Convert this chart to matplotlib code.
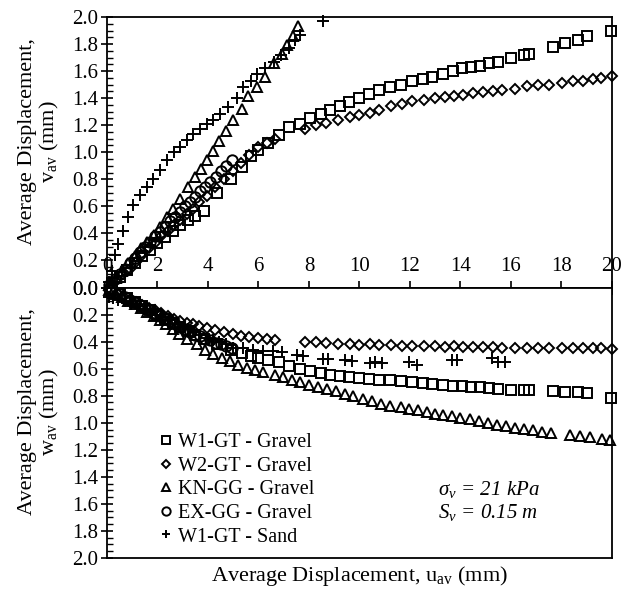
import matplotlib.pyplot as plt

plt.rcParams['font.family'] = 'Liberation Serif'
plt.rcParams['mathtext.fontset'] = 'custom'
plt.rcParams['mathtext.rm'] = 'Liberation Serif'
plt.rcParams['mathtext.it'] = 'Liberation Serif:italic'

# W1-GT - Gravel (same readings in both panels)
w1g_u = [0.2, 0.5, 0.8, 1.1, 1.4, 1.7, 2.0, 2.3, 2.6, 2.9, 3.2, 3.5, 3.84, 4.35, 4.9, 5.33, 5.7, 6.0, 6.38, 6.8,
         7.22, 7.64, 8.05, 8.46, 8.85, 9.23, 9.6, 9.99, 10.39, 10.78, 11.21, 11.65, 12.07, 12.5, 12.88, 13.3, 13.69,
         14.05, 14.4, 14.77, 15.14, 15.5, 15.99, 16.5, 16.72, 17.65, 18.15, 18.65, 19.0, 19.96]
w1g_v = [0.03, 0.08, 0.13, 0.18, 0.23, 0.28, 0.33, 0.37, 0.42, 0.46, 0.50, 0.53, 0.565, 0.70, 0.80, 0.89, 0.97, 1.02,
         1.07, 1.13, 1.19, 1.21, 1.25, 1.28, 1.316, 1.34, 1.373, 1.40, 1.43, 1.46, 1.48, 1.50, 1.53, 1.54, 1.56, 1.58,
         1.60, 1.62, 1.63, 1.64, 1.66, 1.67, 1.70, 1.72, 1.73, 1.78, 1.81, 1.83, 1.86, 1.90]
w1g_w = [0.02, 0.05, 0.08, 0.11, 0.14, 0.17, 0.20, 0.23, 0.26, 0.29, 0.32, 0.35, 0.38, 0.42, 0.459, 0.484, 0.504, 0.52,
         0.533, 0.553, 0.58, 0.60, 0.62, 0.632, 0.644, 0.657, 0.662, 0.669, 0.676, 0.681, 0.687, 0.694, 0.701, 0.706,
         0.711, 0.721, 0.725, 0.728, 0.733, 0.738, 0.743, 0.748, 0.755, 0.761, 0.761, 0.766, 0.770, 0.775, 0.780, 0.817]

# W2-GT - Gravel
w2g_u = [0.15, 0.4, 0.65, 0.9, 1.15, 1.4, 1.65, 1.9, 2.15, 2.4, 2.65, 2.9, 3.15, 3.4, 3.65, 3.95, 4.28, 4.63, 4.98,
         5.30, 5.64, 6.0, 6.32, 6.65, 7.84, 8.26, 8.69, 9.14, 9.61, 10.0, 10.4, 10.77, 11.23, 11.67, 12.09, 12.57,
         13.01, 13.39, 13.74, 14.11, 14.51, 14.9, 15.27, 15.66, 16.16, 16.65, 17.07, 17.49, 18.03, 18.47, 18.84,
         19.24, 19.56, 20.0]
w2g_v = [0.02, 0.06, 0.1, 0.14, 0.19, 0.24, 0.29, 0.33, 0.38, 0.42, 0.46, 0.5, 0.54, 0.58, 0.63, 0.68, 0.74, 0.8,
         0.86, 0.92, 0.98, 1.04, 1.07, 1.10, 1.175, 1.20, 1.217, 1.242, 1.257, 1.276, 1.29, 1.31, 1.34, 1.356, 1.38,
         1.385, 1.40, 1.405, 1.415, 1.425, 1.435, 1.444, 1.454, 1.46, 1.47, 1.49, 1.494, 1.50, 1.51, 1.524, 1.53,
         1.54, 1.548, 1.563]
w2g_w = [0.015, 0.04, 0.065, 0.09, 0.11, 0.13, 0.15, 0.17, 0.19, 0.21, 0.23, 0.245, 0.26, 0.27, 0.285, 0.30, 0.311,
         0.331, 0.343, 0.356, 0.365, 0.375, 0.38, 0.385, 0.405, 0.405, 0.41, 0.415, 0.417, 0.422, 0.417, 0.422, 0.422,
         0.43, 0.434, 0.43, 0.434, 0.44, 0.434, 0.44, 0.44, 0.44, 0.44, 0.445, 0.445, 0.445, 0.445, 0.448, 0.448,
         0.45, 0.45, 0.45, 0.45, 0.455]

# KN-GG - Gravel
kn_u_top = [0.1, 0.35, 0.6, 0.85, 1.1, 1.35, 1.6, 1.85, 2.1, 2.36, 2.63, 2.89, 3.22, 3.49, 3.72, 3.95, 4.21, 4.45,
            4.71, 5.0, 5.33, 5.6, 5.93, 6.26, 6.6, 6.92, 7.14, 7.38, 7.55]
kn_v = [0.02, 0.07, 0.12, 0.18, 0.23, 0.29, 0.34, 0.39, 0.45, 0.52, 0.583, 0.657, 0.743, 0.817, 0.879, 0.94, 1.007,
        1.08, 1.158, 1.237, 1.32, 1.415, 1.484, 1.56, 1.66, 1.73, 1.79, 1.86, 1.93]
kn_u_bot = [0.1, 0.35, 0.6, 0.85, 1.1, 1.35, 1.6, 1.85, 2.1, 2.35, 2.6, 2.85, 3.16, 3.55, 3.88, 4.21, 4.54, 4.87,
            5.2, 5.53, 5.86, 6.19, 6.65, 6.98, 7.31, 7.64, 8.01, 8.37, 8.72, 9.07, 9.43, 9.75, 10.15, 10.48, 10.84,
            11.21, 11.63, 11.97, 12.33, 12.69, 13.0, 13.32, 13.65, 14.0, 14.36, 14.72, 15.08, 15.44, 15.8, 16.16,
            16.52, 16.88, 17.24, 17.6, 18.34, 18.73, 19.13, 19.59, 19.92]
kn_w = [0.02, 0.045, 0.07, 0.10, 0.125, 0.15, 0.18, 0.21, 0.24, 0.27, 0.31, 0.345, 0.38, 0.42, 0.46, 0.489, 0.52,
        0.546, 0.57, 0.595, 0.607, 0.627, 0.65, 0.665, 0.681, 0.701, 0.719, 0.736, 0.75, 0.768, 0.785, 0.805, 0.824,
        0.842, 0.859, 0.874, 0.884, 0.899, 0.909, 0.924, 0.933, 0.943, 0.953, 0.963, 0.975, 0.99, 1.0, 1.013, 1.025,
        1.036, 1.046, 1.056, 1.066, 1.078, 1.089, 1.096, 1.106, 1.119, 1.126]

# EX-GG - Gravel
ex_u = [0.1, 0.3, 0.5, 0.7, 0.9, 1.1, 1.3, 1.5, 1.7, 1.9, 2.1, 2.3, 2.5, 2.7, 2.9, 3.1, 3.3, 3.5, 3.7, 3.9, 4.1,
        4.3, 4.5, 4.7, 4.94]
ex_v = [0.02, 0.06, 0.1, 0.14, 0.18, 0.22, 0.26, 0.3, 0.34, 0.38, 0.41, 0.45, 0.49, 0.52, 0.56, 0.6, 0.63, 0.67,
        0.71, 0.74, 0.78, 0.82, 0.86, 0.9, 0.94]
ex_w = [0.01, 0.03, 0.05, 0.07, 0.09, 0.11, 0.13, 0.15, 0.17, 0.19, 0.21, 0.23, 0.25, 0.27, 0.29, 0.31, 0.33, 0.35,
        0.36, 0.38, 0.39, 0.41, 0.42, 0.43, 0.45]

# W1-GT - Sand
sand_u_top = [0.1, 0.2, 0.32, 0.45, 0.65, 0.85, 1.04, 1.31, 1.57, 1.83, 2.1, 2.36, 2.65, 2.89, 3.16, 3.42, 3.68,
              3.95, 4.21, 4.48, 4.8, 5.14, 5.4, 5.7, 5.95, 6.25, 6.6, 6.9, 7.2, 7.45, 7.65, 8.57]
sand_v = [0.04, 0.12, 0.24, 0.32, 0.42, 0.52, 0.607, 0.681, 0.743, 0.805, 0.867, 0.94, 1.0, 1.04, 1.089, 1.138,
          1.175, 1.21, 1.242, 1.286, 1.336, 1.40, 1.48, 1.53, 1.58, 1.62, 1.67, 1.72, 1.77, 1.83, 1.87, 1.97]
sand_u_bot = [0.1, 0.25, 0.45, 0.7, 0.95, 1.2, 1.45, 1.7, 1.95, 2.2, 2.45, 2.7, 2.95, 3.2, 3.45, 3.7, 3.95, 4.2,
              4.45, 4.7, 5.0, 5.4, 5.8, 6.19, 6.59, 6.92, 7.51, 7.78, 8.57, 8.76, 9.43, 9.69, 10.42, 10.61, 10.88,
              11.97, 12.26, 13.65, 13.85, 15.24, 15.5, 15.76]
sand_w = [0.07, 0.08, 0.09, 0.1, 0.12, 0.14, 0.16, 0.18, 0.2, 0.22, 0.24, 0.27, 0.29, 0.31, 0.33, 0.35, 0.37, 0.39,
          0.40, 0.42, 0.447, 0.447, 0.459, 0.467, 0.472, 0.479, 0.496, 0.509, 0.528, 0.528, 0.533, 0.541, 0.558,
          0.553, 0.558, 0.553, 0.57, 0.538, 0.538, 0.52, 0.553, 0.553]

mk = dict(linestyle='none', mfc='none', mec='black', mew=1.4, clip_on=False)

fig = plt.figure(figsize=(6.23, 5.92), dpi=100)
gs = fig.add_gridspec(2, 1, left=0.1717, right=0.9823, bottom=0.0574, top=0.9713, hspace=0)
ax1 = fig.add_subplot(gs[0])
ax2 = fig.add_subplot(gs[1])

ax1.plot(w1g_u, w1g_v, marker='s', ms=7, **mk)
ax1.plot(w2g_u, w2g_v, marker='D', ms=5.5, **mk)
ax1.plot(kn_u_top, kn_v, marker='^', ms=7.5, **mk)
ax1.plot(ex_u, ex_v, marker='o', ms=7.5, **mk)
ax1.plot(sand_u_top, sand_v, marker='+', ms=8, **mk)

ax2.plot(w1g_u, w1g_w, marker='s', ms=7, label='W1-GT - Gravel', **mk)
ax2.plot(w2g_u, w2g_w, marker='D', ms=5.5, label='W2-GT - Gravel', **mk)
ax2.plot(kn_u_bot, kn_w, marker='^', ms=7.5, label='KN-GG - Gravel', **mk)
ax2.plot(ex_u, ex_w, marker='o', ms=7.5, label='EX-GG - Gravel', **mk)
ax2.plot(sand_u_bot, sand_w, marker='+', ms=8, label='W1-GT - Sand', **mk)

for ax in (ax1, ax2):
    ax.set_xlim(0, 20)
    ax.set_yticks([i * 0.2 for i in range(11)])
    ax.set_yticks([i * 0.05 for i in range(41)], minor=True)
    ax.yaxis.set_major_formatter('{x:.1f}')
    ax.tick_params(axis='y', which='major', direction='inout', length=9, width=1.2, labelsize=15, pad=2)
    ax.tick_params(axis='y', which='minor', direction='in', length=4, width=1)
    for s in ax.spines.values():
        s.set_linewidth(1.3)

ax1.set_ylim(0, 2)
ax2.set_ylim(2, 0)

ax1.set_xticks(range(0, 21, 2))
ax1.set_xticks([i * 0.5 for i in range(41)], minor=True)
ax1.tick_params(axis='x', which='major', direction='inout', length=10, width=1.2, labelsize=15, pad=-27)
ax1.tick_params(axis='x', which='minor', direction='out', length=4, width=1)
ax2.tick_params(axis='x', bottom=False, labelbottom=False)

ax1.set_ylabel('Average Displacement,\nv$_{\\mathrm{av}}$ (mm)', fontsize=16, linespacing=1.05)
ax2.set_ylabel('Average Displacement,\nw$_{\\mathrm{av}}$ (mm)', fontsize=16, linespacing=1.05)
ax1.yaxis.set_label_coords(-0.092, 0.54)
ax2.yaxis.set_label_coords(-0.092, 0.54)
ax2.set_xlabel('Average Displacement, u$_{\\mathrm{av}}$ (mm)', fontsize=16, labelpad=4)

ax2.legend(loc='upper left', bbox_to_anchor=(0.105, 0.461), frameon=False, fontsize=14.5, markerscale=0.8,
           handlelength=0.6, handletextpad=0.3, labelspacing=0.22, borderpad=0, borderaxespad=0)

ax2.text(0.655, 0.21, '\u03c3$_v$ = 21 kPa\nS$_v$ = 0.15 m', transform=ax2.transAxes, fontsize=15,
         style='italic', va='center', ha='left', linespacing=1.1)

fig.savefig('out.png', dpi=100)
